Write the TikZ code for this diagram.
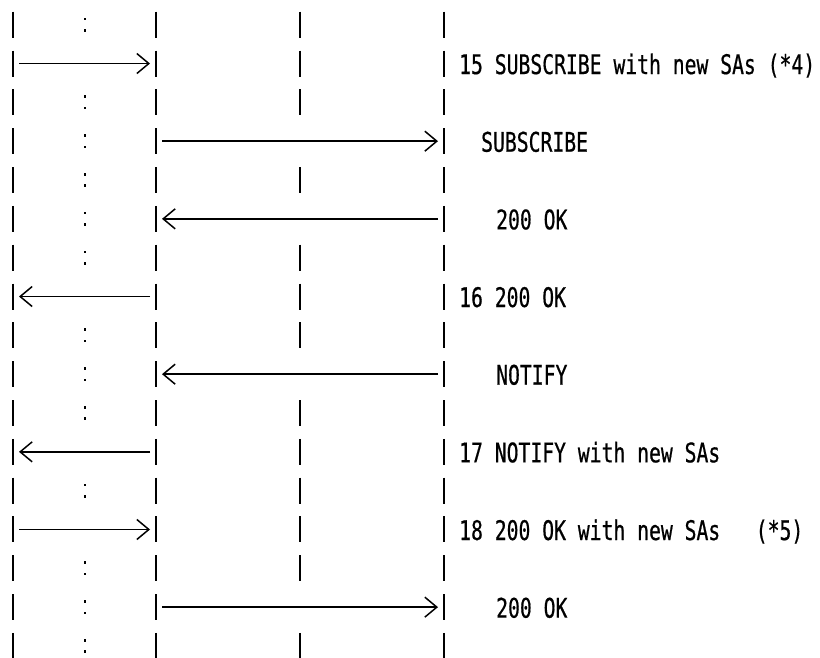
\documentclass[tikz,border=0pt]{standalone}
\usepackage{fontspec}
\newfontfamily\lblfont[FakeStretch=0.73,FakeBold=0.6]{DejaVu Sans Mono}
\usetikzlibrary{arrows.meta}
\begin{document}
\begin{tikzpicture}[x=1pt,y=-1pt,
  bar/.style={line width=2.4pt},
  msg/.style={line width=1.5pt,-{Straight Barb[length=12pt,width=20pt]},shorten <=6pt,shorten >=6pt},
  lbl/.style={anchor=base west,inner sep=0pt,font=\lblfont\fontsize{27}{31}\selectfont},
  dot/.style={fill=black,inner sep=0pt,minimum size=2.6pt,rectangle}]
\useasboundingbox (0,0) rectangle (820,657);
\foreach \i in {1,...,17} {
  \foreach \j/\xx in {1/13,2/156,3/300,4/444,c/85} {
    \coordinate (r\i-\j) at (\xx, {24.7+(\i-1)*38.83});
  }
}
% lifeline bars
\foreach \i in {1,...,17} {
  \foreach \j in {1,2,4} {
    \draw[bar] ([yshift=13pt]r\i-\j) -- ([yshift=-13pt]r\i-\j);
  }
}
\foreach \i in {1,2,3,5,7,8,9,11,12,13,14,15,17} {
  \draw[bar] ([yshift=13pt]r\i-3) -- ([yshift=-13pt]r\i-3);
}
% colons
\foreach \i in {1,3,4,5,6,7,9,10,11,13,15,16,17} {
  \node[dot] at ([yshift=5.7pt]r\i-c) {};
  \node[dot] at ([yshift=-5.7pt]r\i-c) {};
}
% messages
\draw[msg] (r2-1) -- (r2-2);
\draw[msg] (r4-2) -- (r4-4);
\draw[msg] (r6-4) -- (r6-2);
\draw[msg] (r8-2) -- (r8-1);
\draw[msg] (r10-4) -- (r10-2);
\draw[msg] (r12-2) -- (r12-1);
\draw[msg] (r14-1) -- (r14-2);
\draw[msg] (r16-2) -- (r16-4);
% labels
\node[lbl] (l2) at ([yshift=-10.5pt]r2-4 -| 459,0) {15 SUBSCRIBE with new SAs (*4)};
\node[lbl] (l4) at ([yshift=-10.5pt]r4-4 -| 481,0) {SUBSCRIBE};
\node[lbl] (l6) at ([yshift=-10.5pt]r6-4 -| 496,0) {200 OK};
\node[lbl] (l8) at ([yshift=-10.5pt]r8-4 -| 459,0) {16 200 OK};
\node[lbl] (l10) at ([yshift=-10.5pt]r10-4 -| 496,0) {NOTIFY};
\node[lbl] (l12) at ([yshift=-10.5pt]r12-4 -| 459,0) {17 NOTIFY with new SAs};
\node[lbl] (l14) at ([yshift=-10.5pt]r14-4 -| 459,0) {18 200 OK with new SAs\ \ \ (*5)};
\node[lbl] (l16) at ([yshift=-10.5pt]r16-4 -| 496,0) {200 OK};
\end{tikzpicture}
\end{document}
